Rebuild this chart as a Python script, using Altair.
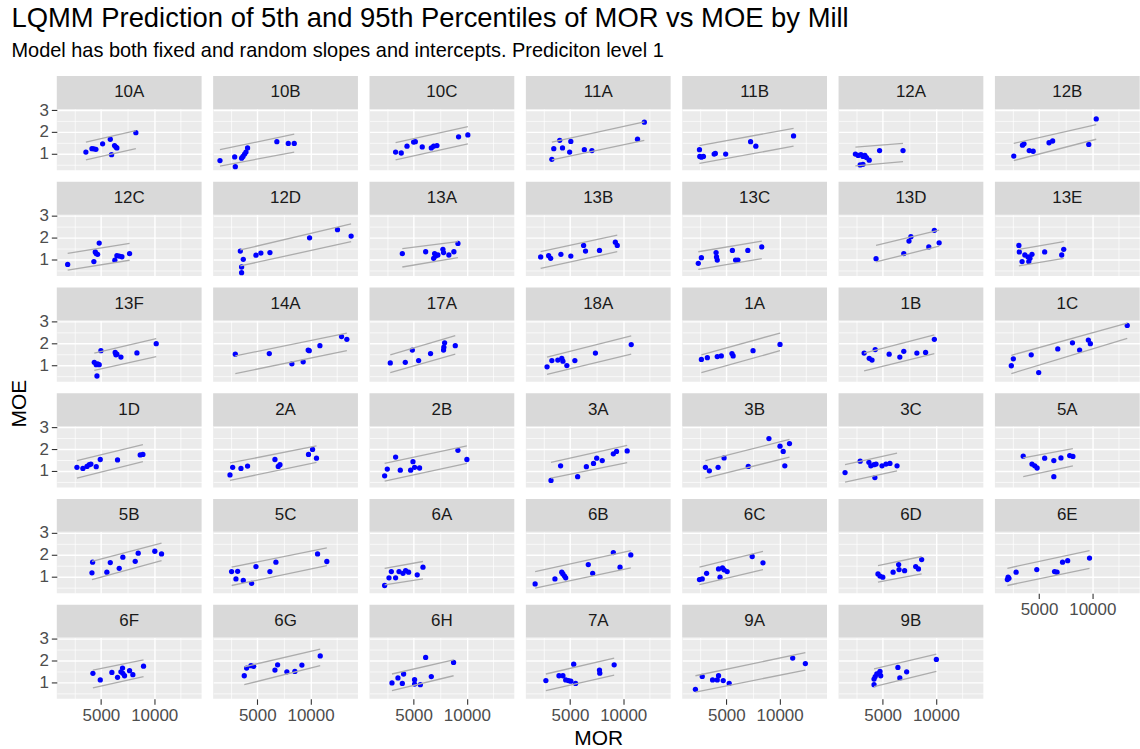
import altair as alt
import pandas as pd

# Mills in the order they are laid out (7 panels per row)
MILLS = ["10A", "10B", "10C", "11A", "11B", "12A", "12B",
         "12C", "12D", "13A", "13B", "13C", "13D", "13E",
         "13F", "14A", "17A", "18A", "1A", "1B", "1C",
         "1D", "2A", "2B", "3A", "3B", "3C", "5A",
         "5B", "5C", "6A", "6B", "6C", "6D", "6E",
         "6F", "6G", "6H", "7A", "9A", "9B"]

# Observed MOR per mill
MOR = {
    "10A": [3590, 4160, 4340, 4530, 5160, 5880, 6000, 6280, 6410, 6500, 8280],
    "10B": [1500, 2880, 2940, 3530, 3660, 3810, 3940, 4090, 6840, 7910, 8470],
    "10C": [3310, 3840, 4380, 5000, 5160, 5810, 6660, 6880, 7190, 9220, 10090],
    "11A": [3300, 3480, 4040, 4300, 4970, 5080, 6350, 7060, 11340, 11980],
    "11B": [2480, 2510, 2660, 2850, 3860, 3970, 4940, 7280, 7770, 11310],
    "12A": [2440, 2700, 2960, 3150, 3330, 3480, 3740, 2890, 3150, 4710, 6910],
    "12B": [2630, 3450, 3590, 4080, 4450, 5940, 6280, 9670, 10370],
    "12C": [1880, 4340, 4470, 4560, 4690, 4840, 6310, 6500, 6720, 6970, 7690],
    "12D": [3410, 3530, 3530, 3690, 4880, 5340, 6190, 9910, 12530, 13810],
    "13A": [3940, 6130, 6880, 6970, 7060, 7280, 7750, 7810, 8310, 8780, 9160],
    "13B": [2250, 3000, 3190, 4150, 5080, 6280, 6460, 7770, 9260, 9440],
    "13C": [2370, 2660, 4040, 4080, 4150, 5570, 5870, 6090, 7020, 8330],
    "13D": [4380, 6980, 7470, 7650, 9330, 9850, 10300],
    "13E": [3110, 3150, 3410, 3670, 3970, 4040, 4150, 4340, 5530, 7130, 7320],
    "13F": [4380, 4560, 4630, 4690, 4840, 5000, 6340, 6410, 6500, 6880, 8380, 10190],
    "14A": [2940, 6130, 8250, 9310, 9780, 9880, 10880, 12910, 13410],
    "17A": [2810, 4220, 4880, 5470, 6590, 7810, 7840, 7910, 8910],
    "18A": [2850, 3300, 3860, 4230, 4340, 4710, 5460, 7390, 10750],
    "1A": [2660, 3220, 4150, 4530, 5530, 5640, 7510, 10040],
    "1B": [3260, 3740, 4000, 4300, 5610, 6610, 6980, 8210, 9030, 9850],
    "1C": [2400, 2590, 4270, 4970, 6760, 8140, 8810, 9630, 9820, 13280],
    "1D": [2750, 3310, 3690, 3910, 4060, 4560, 4940, 6560, 8690, 8940],
    "2A": [2440, 2690, 3470, 4090, 6660, 6970, 7130, 9810, 10190, 10560],
    "2B": [2280, 2530, 3310, 3750, 4720, 4940, 5090, 5560, 9160, 10000],
    "3A": [3220, 4120, 5720, 6540, 7210, 7510, 8030, 9070, 9370, 10370],
    "3B": [3040, 3410, 4230, 4790, 7060, 9000, 10040, 10340, 10490, 10930],
    "3C": [1470, 2890, 3710, 3890, 4190, 4270, 4380, 4940, 5310, 5680, 6350],
    "5A": [3520, 4340, 4600, 4820, 5530, 6390, 6390, 7060, 7880, 8180],
    "5B": [4160, 4220, 5560, 5880, 6720, 7060, 8220, 8500, 10060, 10690],
    "5C": [2590, 3000, 3160, 3690, 4470, 4880, 6190, 6750, 10660, 11530],
    "6A": [2280, 2690, 2910, 3310, 3630, 4000, 4250, 4530, 5340, 5880],
    "6B": [1730, 3590, 4230, 4340, 4490, 4600, 6720, 7130, 9070, 9700, 10710],
    "6C": [2480, 2740, 3150, 4270, 4410, 4640, 4790, 5080, 7430, 8440],
    "6D": [4560, 4750, 5010, 5980, 6500, 6540, 7060, 8100, 8360, 8660],
    "6E": [2030, 2100, 2180, 2850, 4790, 6460, 6690, 7210, 7690, 9740],
    "6F": [4250, 4940, 6030, 6560, 6880, 7030, 7060, 7220, 7690, 8000, 9000],
    "6G": [3780, 4000, 4410, 4660, 6660, 6910, 7780, 8530, 9190, 10910],
    "6H": [2970, 3530, 3940, 4060, 5090, 5090, 5630, 6130, 6660, 8750],
    "7A": [2740, 3970, 4340, 4600, 4860, 5080, 5350, 5530, 7770, 7800, 9150],
    "9A": [2100, 2740, 3710, 4150, 4270, 4710, 5270, 11230, 12420],
    "9B": [4190, 4190, 4300, 4450, 4680, 4750, 4820, 6430, 6610, 7250, 10040],
}

# Observed MOE per mill (same order as MOR)
MOE = {
    "10A": [1.07, 1.23, 1.22, 1.20, 1.45, 1.66, 0.95, 1.37, 1.30, 1.26, 1.96],
    "10B": [0.68, 0.85, 0.40, 0.79, 0.87, 0.98, 1.07, 1.26, 1.55, 1.47, 1.47],
    "10C": [1.07, 1.03, 1.34, 1.53, 1.55, 1.31, 1.26, 1.34, 1.37, 1.77, 1.86],
    "11A": [0.74, 1.23, 1.61, 1.26, 1.07, 1.56, 1.18, 1.14, 1.66, 2.44],
    "11B": [1.18, 0.87, 0.84, 0.87, 0.98, 1.01, 0.98, 1.55, 1.34, 1.81],
    "12A": [0.98, 0.92, 0.95, 0.87, 0.92, 0.82, 0.70, 0.48, 0.51, 1.14, 1.14],
    "12B": [0.89, 1.39, 1.45, 1.14, 1.11, 1.50, 1.58, 1.42, 2.59],
    "12C": [0.77, 0.90, 1.34, 1.26, 1.23, 1.75, 0.96, 1.17, 1.15, 1.12, 1.26],
    "12D": [1.38, 0.39, 0.65, 1.00, 1.19, 1.29, 1.31, 1.99, 2.36, 2.07],
    "13A": [1.26, 1.35, 1.05, 1.26, 1.15, 1.20, 1.46, 1.31, 1.20, 1.35, 1.73],
    "13B": [1.11, 1.17, 1.05, 1.23, 1.15, 1.64, 1.38, 1.41, 1.79, 1.64],
    "13C": [0.82, 1.08, 1.31, 1.11, 0.97, 1.41, 0.97, 0.97, 1.41, 1.57],
    "13D": [1.03, 1.26, 1.84, 2.04, 1.57, 2.33, 1.76],
    "13E": [1.64, 1.34, 0.90, 1.20, 1.11, 0.90, 1.05, 1.23, 1.34, 1.20, 1.46],
    "13F": [1.13, 1.02, 0.50, 1.06, 1.02, 1.66, 1.58, 1.47, 1.50, 1.37, 1.56, 1.98],
    "14A": [1.50, 1.53, 1.06, 1.15, 1.69, 1.66, 1.89, 2.31, 2.18],
    "17A": [1.10, 1.13, 1.69, 1.21, 1.53, 1.69, 1.82, 2.02, 1.89],
    "18A": [0.92, 1.21, 1.23, 1.31, 1.18, 0.98, 1.21, 1.55, 1.94],
    "1A": [1.26, 1.34, 1.39, 1.42, 1.53, 1.42, 1.66, 1.95],
    "1B": [1.55, 1.31, 1.23, 1.71, 1.50, 1.37, 1.63, 1.55, 1.58, 2.18],
    "1C": [0.97, 1.29, 1.47, 0.66, 1.74, 2.02, 1.69, 2.15, 1.98, 2.82],
    "1D": [1.16, 1.11, 1.20, 1.28, 1.31, 1.19, 1.52, 1.50, 1.73, 1.75],
    "2A": [0.81, 1.16, 1.11, 1.22, 1.52, 1.20, 1.28, 1.75, 1.98, 1.58],
    "2B": [0.77, 1.08, 1.63, 1.03, 1.03, 1.42, 1.16, 1.13, 1.94, 1.52],
    "3A": [0.56, 1.23, 0.73, 1.19, 1.34, 1.58, 1.47, 1.78, 1.89, 1.91],
    "3B": [1.16, 1.00, 1.16, 1.59, 1.20, 2.48, 2.13, 1.89, 1.23, 2.25],
    "3C": [0.92, 1.44, 1.39, 1.23, 1.28, 0.69, 1.31, 1.23, 1.31, 1.34, 1.23],
    "5A": [1.67, 1.31, 1.23, 1.13, 1.58, 1.47, 0.73, 1.59, 1.70, 1.66],
    "5B": [1.17, 1.66, 1.20, 1.64, 1.38, 1.89, 1.70, 2.07, 2.16, 2.04],
    "5C": [1.23, 0.89, 1.24, 0.82, 0.69, 1.46, 1.23, 1.66, 2.04, 1.69],
    "6A": [0.59, 0.94, 1.23, 0.94, 1.23, 1.15, 1.27, 1.20, 1.08, 1.43],
    "6B": [0.66, 0.89, 1.20, 1.12, 1.02, 0.94, 1.55, 1.15, 2.10, 1.43, 1.99],
    "6C": [0.86, 0.89, 1.15, 1.35, 0.97, 1.40, 1.31, 1.23, 1.92, 1.63],
    "6D": [1.12, 1.02, 0.97, 1.20, 1.55, 1.32, 1.27, 1.46, 1.35, 1.78],
    "6E": [0.86, 0.97, 0.92, 1.20, 1.32, 1.23, 1.20, 1.66, 1.73, 1.85],
    "6F": [1.41, 1.11, 1.45, 1.23, 1.48, 1.65, 1.41, 1.30, 1.53, 1.35, 1.74],
    "6G": [1.30, 1.65, 1.76, 1.73, 1.56, 1.80, 1.48, 1.50, 1.79, 2.21],
    "6H": [0.97, 1.20, 0.95, 1.38, 1.12, 0.92, 0.89, 2.14, 1.26, 1.91],
    "7A": [1.08, 1.30, 1.30, 1.11, 1.08, 1.05, 1.83, 0.95, 1.56, 1.42, 1.80],
    "9A": [0.68, 1.27, 1.11, 1.11, 1.30, 1.08, 0.95, 2.11, 1.86],
    "9B": [0.89, 1.15, 1.26, 1.38, 1.42, 1.50, 1.30, 1.68, 1.20, 1.48, 2.05],
}

# Predicted 5th percentile of MOE at the lowest and highest MOR of each mill
Q05 = {
    "10A": (0.71, 1.23), "10B": (0.43, 1.07), "10C": (0.71, 1.45), "11A": (0.71, 1.61),
    "11B": (0.55, 1.34), "12A": (0.44, 0.63), "12B": (0.68, 1.66), "12C": (0.51, 0.96),
    "12D": (0.70, 1.81), "13A": (0.65, 1.08), "13B": (0.59, 1.35), "13C": (0.54, 1.03),
    "13D": (0.88, 1.61), "13E": (0.70, 1.05), "13F": (0.76, 1.39), "14A": (0.61, 1.66),
    "17A": (0.66, 1.50), "18A": (0.58, 1.50), "1A": (0.66, 1.66), "1B": (0.73, 1.53),
    "1C": (0.61, 2.23), "1D": (0.66, 1.42), "2A": (0.56, 1.39), "2B": (0.53, 1.34),
    "3A": (0.67, 1.38), "3B": (0.66, 1.63), "3C": (0.48, 1.00), "5A": (0.73, 1.23),
    "5B": (0.86, 1.73), "5C": (0.59, 1.50), "6A": (0.62, 0.89), "6B": (0.47, 1.40),
    "6C": (0.63, 1.32), "6D": (0.74, 1.12), "6E": (0.59, 1.38), "6F": (0.74, 1.26),
    "6G": (0.89, 1.76), "6H": (0.62, 1.30), "7A": (0.62, 1.33), "9A": (0.55, 1.56),
    "9B": (0.80, 1.50),
}

# Predicted 95th percentile of MOE at the lowest and highest MOR of each mill
Q95 = {
    "10A": (1.53, 2.05), "10B": (1.18, 1.89), "10C": (1.50, 2.24), "11A": (1.53, 2.46),
    "11B": (1.37, 2.16), "12A": (1.30, 1.47), "12B": (1.47, 2.33), "12C": (1.28, 1.73),
    "12D": (1.43, 2.63), "13A": (1.49, 1.81), "13B": (1.35, 2.11), "13C": (1.35, 1.84),
    "13D": (1.64, 2.34), "13E": (1.46, 1.81), "13F": (1.55, 2.21), "14A": (1.42, 2.47),
    "17A": (1.47, 2.35), "18A": (1.37, 2.34), "1A": (1.47, 2.47), "1B": (1.55, 2.39),
    "1C": (1.45, 2.92), "1D": (1.47, 2.20), "2A": (1.36, 2.14), "2B": (1.34, 2.14),
    "3A": (1.39, 2.17), "3B": (1.47, 2.44), "3C": (1.28, 1.81), "5A": (1.59, 2.02),
    "5B": (1.70, 2.53), "5C": (1.43, 2.31), "6A": (1.38, 1.69), "6B": (1.23, 2.19),
    "6C": (1.43, 2.15), "6D": (1.50, 1.92), "6E": (1.38, 2.19), "6F": (1.56, 2.03),
    "6G": (1.71, 2.52), "6H": (1.38, 2.03), "7A": (1.38, 2.11), "9A": (1.30, 2.36),
    "9B": (1.61, 2.29),
}

X_DOMAIN = [860, 14450]
Y_DOMAIN = [0.24, 3.05]
X_GRID = [2500, 5000, 7500, 10000, 12500]
Y_GRID = [0.5, 1, 1.5, 2, 2.5, 3]

# Long tables built from the arrays above
pt_rows, q_rows = [], []
for m in MILLS:
    for x, y in zip(MOR[m], MOE[m]):
        pt_rows.append({"mill": m, "MOR": x, "MOE": y})
    lo, hi = min(MOR[m]), max(MOR[m])
    for tau, (a, b) in (("0.05", Q05[m]), ("0.95", Q95[m])):
        q_rows.append({"mill": m, "tau": tau, "MOR": lo, "MOE": a})
        q_rows.append({"mill": m, "tau": tau, "MOR": hi, "MOE": b})
points = pd.DataFrame(pt_rows)
quant = pd.DataFrame(q_rows)
strips = pd.DataFrame({"mill": MILLS})

FONT = "Liberation Sans"
W, H, STRIP = 145.3, 61.5, 33
NCOL = 7
MAJOR_X = "datum.value % 5000 === 0"
MAJOR_Y = "datum.value % 1 === 0"


def cond(test, yes, no):
    return {"condition": {"test": test, "value": yes}, "value": no}


def axis(values, major, show, **extra):
    return alt.Axis(
        values=values, labels=show, ticks=show, domain=False,
        labelExpr=f"{major} ? format(datum.value, 'd') : ''",
        gridColor="white", gridWidth=cond(major, 1.4, 0.7),
        tickOpacity=cond(major, 1, 0), tickColor="#333333", tickSize=5.5, tickWidth=1.1,
        labelFont=FONT, labelFontSize=17, labelColor="#4D4D4D", labelPadding=3,
        labelFlush=False, labelOverlap=False,
        titleFont=FONT, titleFontSize=21, titleFontWeight="normal", titleColor="black",
        **extra)


def panel(i, m):
    bottom = i + NCOL >= len(MILLS)
    left = i % NCOL == 0
    xtitle = dict(title="MOR", titlePadding=4) if m == "7A" else dict(title="")
    # the MOE title is centred on the stack of panel rows (from the 1D panel's frame)
    ytitle = (dict(title="MOE", titleX=-31.5, titleY=-23, titleAngle=270,
                   titleAlign="center", titleBaseline="alphabetic")
              if m == "1D" else dict(title=""))
    xenc = alt.X("MOR:Q", scale=alt.Scale(domain=X_DOMAIN, nice=False, zero=False),
                 axis=axis(X_GRID, MAJOR_X, bottom, **xtitle))
    yenc = alt.Y("MOE:Q", scale=alt.Scale(domain=Y_DOMAIN, nice=False, zero=False),
                 axis=axis(Y_GRID, MAJOR_Y, left, **ytitle))
    sel = alt.datum.mill == m

    strip = alt.Chart(strips).transform_filter(sel)
    strip_bg = strip.mark_rect(color="#D9D9D9").encode(
        x=alt.value(0), x2=alt.value(W), y=alt.value(-STRIP), y2=alt.value(0))
    strip_txt = strip.mark_text(font=FONT, fontSize=17, color="#1A1A1A",
                                align="center", baseline="middle").encode(
        text="mill:N", x=alt.value(W / 2), y=alt.value(-STRIP / 2))

    dots = alt.Chart(points).transform_filter(sel).mark_circle(
        color="#0000FF", size=28, opacity=1).encode(x=xenc, y=yenc)
    bands = alt.Chart(quant).transform_filter(sel).mark_line(
        color="#ACACAC", strokeWidth=1.3).encode(x=xenc, y=yenc, detail="tau:N")

    return alt.layer(strip_bg, strip_txt, dots, bands).properties(
        width=W, height=H, view=alt.ViewBackground(fill="#EBEBEB", stroke=None))


chart = alt.concat(
    *[panel(i, m) for i, m in enumerate(MILLS)],
    columns=NCOL, spacing={"row": STRIP + 11.1, "column": 10.9}, bounds="flush",
).properties(
    title=alt.TitleParams(
        text="LQMM Prediction of 5th and 95th Percentiles of MOR vs MOE by Mill",
        subtitle="Model has both fixed and random slopes and intercepts. Prediciton level 1",
        anchor="start", dx=3, offset=15, subtitlePadding=9,
        font=FONT, fontSize=27.5, fontWeight="normal", color="black",
        subtitleFont=FONT, subtitleFontSize=20, subtitleColor="black"),
    padding={"left": 8, "top": 3, "right": 0, "bottom": 0},
).configure_view(fill="#EBEBEB", stroke=None).configure(font=FONT)

chart.save("out.html", embed_options={"renderer": "svg", "actions": False})
